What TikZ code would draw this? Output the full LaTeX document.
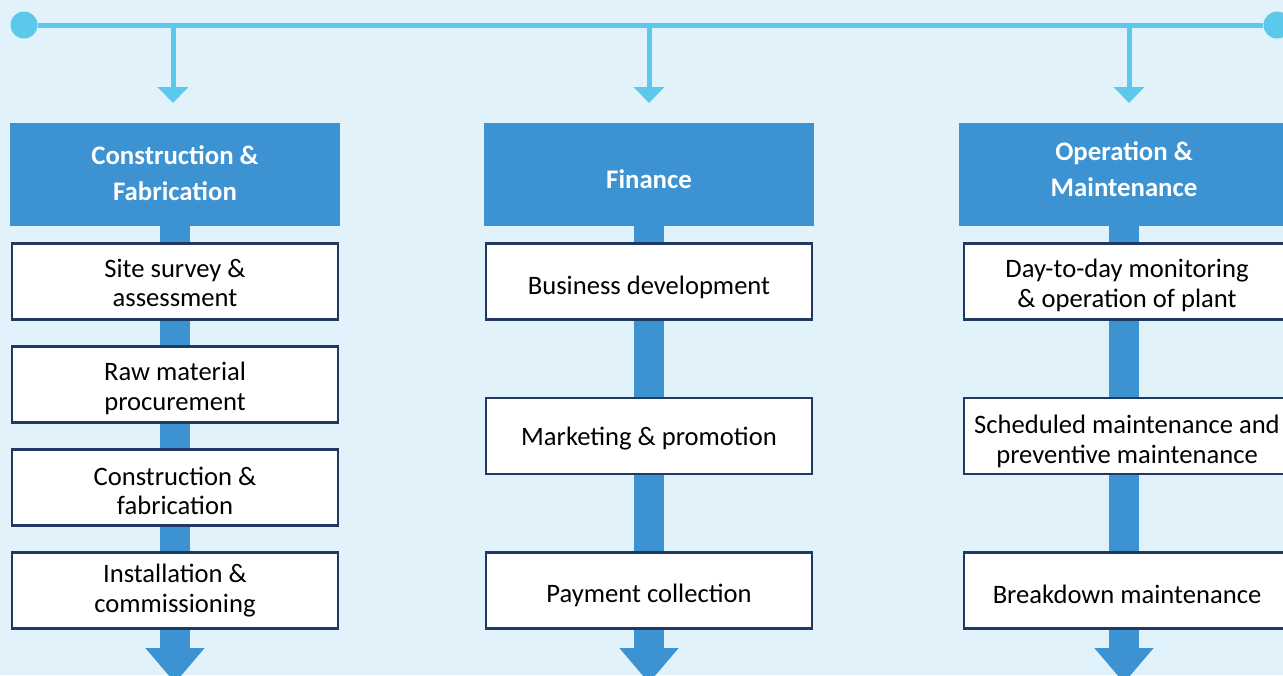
\documentclass[tikz,border=0pt]{standalone}
\usepackage{fontspec}
\setmainfont{Carlito}
\usetikzlibrary{arrows.meta}
\definecolor{bgc}{RGB}{225,242,250}
\definecolor{lblue}{RGB}{91,200,236}
\definecolor{hblue}{RGB}{61,146,210}
\definecolor{navy}{RGB}{31,56,100}
\tikzset{
  hdr/.style={fill=hblue, draw=none, minimum width=330pt, minimum height=103pt, inner sep=0pt},
  hdrtext/.style={text=white, font=\fontsize{26.8}{36}\selectfont\bfseries, align=center, inner sep=0pt},
  stepbox/.style={fill=white, draw=navy, line width=2.6pt,
    minimum width=326pt, minimum height=76pt, inner sep=0pt},
  boxtext/.style={text=black, font=\fontsize{26.6}{29.5}\selectfont, align=center, inner sep=0pt},
  topline/.style={draw=lblue, line width=5pt},
  dot/.style={circle, fill=lblue, minimum size=27pt, inner sep=0pt},
  drop/.style={draw=lblue, line width=5pt, -{Triangle[width=30pt,length=16pt]}},
  spine/.style={draw=hblue, line width=30pt, -{Triangle[width=57pt,length=35pt]}}
}
\begin{document}
\begin{tikzpicture}[x=1pt,y=-1pt]
\fill[bgc] (0,0) rectangle (1283,675);
\useasboundingbox (0,0) rectangle (1283,675);

% top bar
\node[dot] (cl) at (24,25) {};
\node[dot] (cr) at (1277,25) {};
\draw[topline] (cl) -- (cr);
\coordinate (t1) at (173,25);
\coordinate (t2) at (649,25);
\coordinate (t3) at (1129,25);
\coordinate (a1) at (173,103);
\coordinate (a2) at (649,103);
\coordinate (a3) at (1129,103);
\draw[drop] (t1) -- (a1);
\draw[drop] (t2) -- (a2);
\draw[drop] (t3) -- (a3);

% headers
\node[hdr] (h1) at (175,174.5) {};
\node[hdr] (h2) at (649,174.5) {};
\node[hdr] (h3) at (1124,174.5) {};
\node[hdrtext] (h1t) at ([yshift=1pt]h1.center) {Construction \&\\Fabrication};
\node[hdrtext] (h2t) at ([yshift=-5pt]h2.center) {Finance};
\node[hdrtext] (h3t) at ([yshift=5pt]h3.center) {Operation \&\\Maintenance};

% spines
\coordinate (e1) at (175,683);
\coordinate (e2) at (649,683);
\coordinate (e3) at (1124,683);
\draw[spine] (h1.south) -- (e1);
\draw[spine] (h2.south) -- (e2);
\draw[spine] (h3.south) -- (e3);

% left column
\node[stepbox] (l1) at (175,281.5) {};
\node[stepbox] (l2) at (175,384.5) {};
\node[stepbox] (l3) at (175,487.5) {};
\node[stepbox] (l4) at (175,590.5) {};
\node[boxtext] (l1t) at ([yshift=-1.5pt]l1.center) {Site survey \&\\assessment};
\node[boxtext] (l2t) at ([yshift=-4pt]l2.center) {Raw material\\procurement};
\node[boxtext] (l3t) at ([yshift=-3.5pt]l3.center) {Construction \&\\fabrication};
\node[boxtext] (l4t) at ([yshift=0pt]l4.center) {Installation \&\\commissioning};

% middle column
\node[stepbox] (m1) at (649,281.5) {};
\node[stepbox] (m2) at (649,436) {};
\node[stepbox] (m3) at (649,590.5) {};
\node[boxtext] (m1t) at ([yshift=-5.5pt]m1.center) {Business development};
\node[boxtext] (m2t) at ([yshift=-3pt]m2.center) {Marketing \& promotion};
\node[boxtext] (m3t) at ([yshift=-5pt]m3.center) {Payment collection};

% right column
\node[stepbox] (r1) at (1127,281.5) {};
\node[stepbox] (r2) at (1127,436) {};
\node[stepbox] (r3) at (1127,590.5) {};
\node[boxtext] (r1t) at ([yshift=-4pt]r1.center) {Day-to-day monitoring\\\& operation of plant};
\node[boxtext] (r2t) at ([yshift=-5.5pt]r2.center) {Scheduled maintenance and\\preventive maintenance};
\node[boxtext] (r3t) at ([yshift=-4pt]r3.center) {Breakdown maintenance};
\end{tikzpicture}
\end{document}
